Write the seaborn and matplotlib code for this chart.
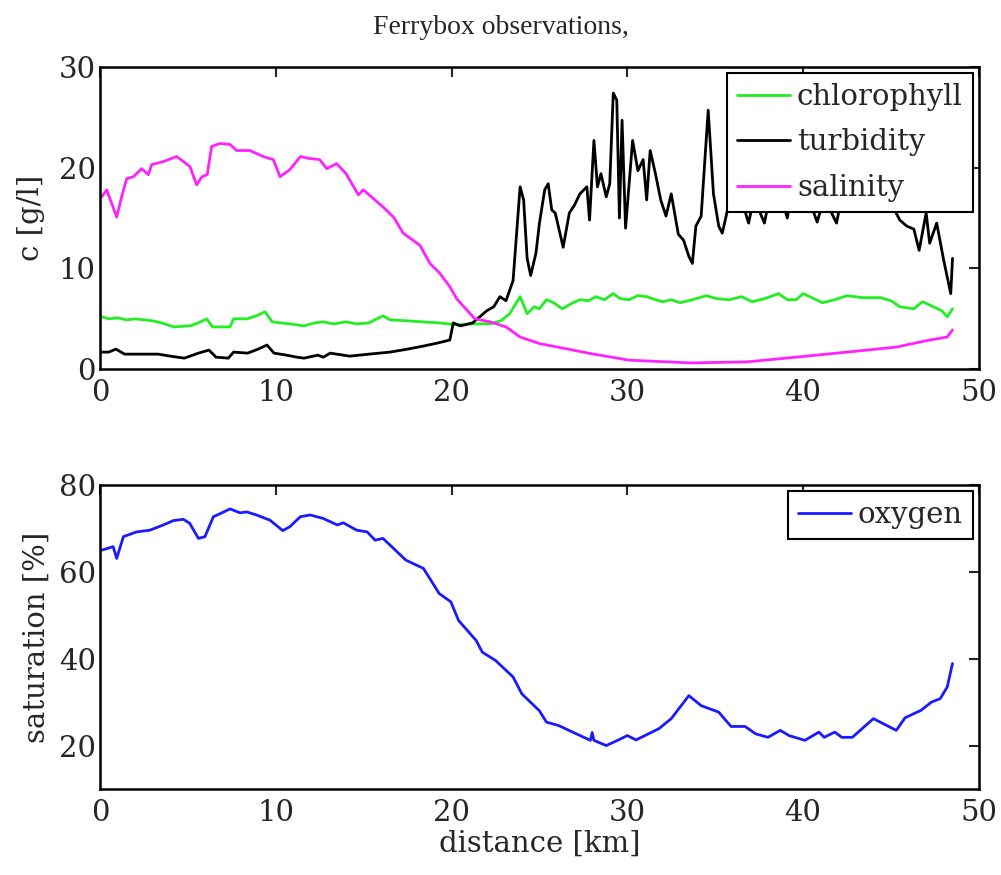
import numpy as np
import pandas as pd
import matplotlib
matplotlib.use("Agg")
import matplotlib.pyplot as plt
import seaborn as sns

# values (distance in km)
chl_km = [0.1, 0.5, 1.0, 1.5, 2.0, 2.5, 3.0, 3.5, 4.2, 5.1, 5.6, 6.07, 6.4, 7.4, 7.6, 8.35, 8.9, 9.39,
          9.8, 10.8, 11.6, 12.2, 12.7, 13.3, 14.0, 14.6, 15.3, 16.1, 16.5, 17.5, 18.4, 19.3, 20.3, 21.2,
          22.2, 22.8, 23.3, 23.9, 24.3, 24.7, 25.0, 25.4, 25.8, 26.3, 26.8, 27.3, 27.8, 28.2, 28.7, 29.2,
          29.6, 30.1, 30.6, 31.1, 31.6, 32.0, 32.5, 33.0, 33.7, 34.5, 35.1, 35.8, 36.5, 37.1, 37.8, 38.6,
          39.1, 39.6, 40.0, 40.5, 41.1, 41.8, 42.5, 43.4, 44.4, 45.0, 45.5, 46.3, 46.8, 47.4, 47.9, 48.2, 48.5]
chl_val = [5.2, 5.0, 5.1, 4.9, 5.0, 4.9, 4.8, 4.6, 4.2, 4.3, 4.6, 5.0, 4.2, 4.2, 5.0, 5.0, 5.3, 5.7,
           4.7, 4.5, 4.3, 4.6, 4.7, 4.5, 4.7, 4.5, 4.6, 5.3, 4.9, 4.8, 4.7, 4.6, 4.4, 4.5,
           4.5, 4.8, 5.5, 7.2, 5.5, 6.2, 6.0, 6.9, 6.6, 6.0, 6.5, 6.9, 6.8, 7.2, 6.9, 7.5,
           7.0, 6.9, 7.3, 7.2, 6.9, 6.7, 6.9, 6.6, 6.9, 7.3, 7.0, 6.9, 7.2, 6.7, 7.0, 7.5,
           6.9, 6.9, 7.5, 7.1, 6.6, 6.9, 7.3, 7.1, 7.1, 6.8, 6.2, 6.0, 6.7, 6.2, 5.8, 5.2, 6.0]

turb_km = [0.1, 0.5, 0.9, 1.4, 2.3, 3.3, 4.0, 4.8, 5.6, 6.2, 6.6, 7.3, 7.6, 8.4, 9.0, 9.5, 9.9, 10.6,
           11.2, 11.6, 12.4, 12.7, 13.1, 14.2, 15.3, 16.5, 17.5, 18.4, 19.2, 19.9, 20.1, 20.5, 21.2,
           21.6, 22.0, 22.4, 22.75, 23.1, 23.5, 23.9, 24.1, 24.3, 24.5, 24.8, 25.0, 25.3, 25.5, 25.7,
           25.9, 26.35, 26.7, 27.0, 27.3, 27.7, 27.85, 28.1, 28.3, 28.5, 28.8, 29.0, 29.2, 29.4, 29.55,
           29.7, 29.9, 30.3, 30.6, 30.9, 31.1, 31.3, 31.6, 31.9, 32.2, 32.5, 32.9, 33.2, 33.5, 33.7,
           33.9, 34.2, 34.6, 34.9, 35.2, 35.4, 35.7, 36.2, 36.9, 37.2, 37.8, 38.2, 38.7, 39.1, 39.5,
           40.2, 40.8, 41.2, 41.9, 42.3, 43.0, 43.8, 44.5, 45.0, 45.5, 45.9, 46.3, 46.6, 47.0, 47.2,
           47.6, 48.0, 48.4, 48.5]
turb_val = [1.7, 1.7, 2.0, 1.5, 1.5, 1.5, 1.3, 1.1, 1.6, 1.9, 1.2, 1.1, 1.7, 1.6, 2.0, 2.4, 1.6, 1.4,
            1.2, 1.1, 1.4, 1.2, 1.6, 1.3, 1.5, 1.7, 2.0, 2.3, 2.6, 2.9, 4.6, 4.3, 4.6,
            5.2, 5.8, 6.2, 7.2, 6.8, 8.8, 18.1, 16.8, 11.0, 9.3, 11.5, 14.5, 17.8, 18.4, 15.8,
            15.5, 12.1, 15.5, 16.3, 17.4, 18.1, 14.8, 22.7, 18.1, 19.4, 17.1, 18.4, 27.4, 26.7, 15.0,
            24.7, 14.0, 22.7, 19.7, 20.8, 16.8, 21.7, 19.4, 16.8, 15.2, 17.4, 13.4, 12.8, 11.2, 10.5,
            14.2, 15.2, 25.7, 17.4, 14.2, 13.5, 15.8, 18.5, 14.5, 17.0, 14.5, 18.0, 17.5, 15.0, 19.0,
            17.5, 14.6, 17.0, 14.5, 18.0, 16.5, 19.0, 17.5, 16.5, 14.8, 14.2, 13.9, 11.8, 15.5, 12.5,
            14.5, 10.8, 7.5, 11.0]

sal_km = [0.1, 0.38, 0.95, 1.23, 1.52, 1.9, 2.37, 2.75, 2.94, 3.6, 4.36, 4.6, 5.12, 5.5, 5.8, 6.1,
          6.35, 6.83, 7.4, 7.77, 8.53, 9.29, 9.86, 10.24, 10.8, 11.4, 11.95, 12.5, 12.9, 13.46, 14.0,
          14.7, 14.98, 16.1, 16.7, 17.25, 18.2, 18.77, 19.34, 19.9, 20.29, 20.86, 21.33, 22.2, 23.1,
          23.9, 25.0, 27.9, 30.1, 33.6, 36.8, 39.6, 42.5, 45.3, 47.2, 48.2, 48.5]
sal_val = [17.1, 17.8, 15.1, 17.1, 18.9, 19.1, 19.9, 19.3, 20.3, 20.6, 21.1, 20.8, 20.1, 18.3, 19.1, 19.3,
           22.1, 22.4, 22.3, 21.7, 21.7, 21.1, 20.8, 19.1, 19.8, 21.1, 20.9, 20.8, 19.9, 20.4, 19.4,
           17.3, 17.8, 16.1, 15.1, 13.5, 12.3, 10.5, 9.5, 8.2, 7.0, 5.9, 5.0, 4.7, 4.2,
           3.2, 2.55, 1.56, 0.9, 0.63, 0.73, 1.2, 1.7, 2.2, 2.9, 3.2, 3.9]

oxy_km = [0.1, 0.75, 0.95, 1.33, 2.08, 2.84, 3.6, 4.17, 4.74, 5.1, 5.6, 5.97, 6.45, 6.83, 7.4, 7.96,
          8.35, 8.9, 9.67, 10.4, 10.8, 11.4, 11.95, 12.7, 13.5, 13.84, 14.6, 15.2, 15.65, 16.1, 16.7,
          17.4, 18.4, 19.3, 19.96, 20.4, 21.4, 21.75, 22.5, 23.5, 24.0, 25.0, 25.4, 26.1, 27.1, 27.9,
          28.0, 28.1, 28.8, 29.6, 30.0, 30.5, 31.8, 32.5, 33.5, 34.2, 35.2, 35.9, 36.7, 37.3, 38.0,
          38.7, 39.2, 40.1, 40.9, 41.2, 41.8, 42.2, 42.8, 44.0, 45.3, 45.8, 46.7, 47.3, 47.8, 48.2, 48.5]
oxy_val = [65.0, 65.8, 63.1, 68.1, 69.2, 69.6, 70.8, 71.8, 72.1, 71.2, 67.7, 68.1, 72.7, 73.4, 74.5, 73.6,
           73.8, 73.1, 71.9, 69.5, 70.4, 72.7, 73.1, 72.3, 70.8, 71.3, 69.6, 69.2, 67.3, 67.7, 65.4,
           62.7, 60.8, 55.0, 53.1, 48.8, 44.2, 41.5, 39.6, 35.8, 31.9, 28.0, 25.4, 24.6, 22.7, 21.2,
           23.0, 21.2, 20.0, 21.5, 22.3, 21.3, 23.9, 26.2, 31.5, 29.2, 27.7, 24.4, 24.4, 22.7, 21.9,
           23.5, 22.3, 21.2, 23.1, 21.9, 23.1, 21.9, 21.9, 26.2, 23.5, 26.4, 28.1, 30.0, 30.8, 33.5, 38.9]

sns.set_style("white")
plt.rcParams['font.family'] = ['DejaVu Serif']

fig = plt.figure(figsize=(10.01, 8.75), dpi=100)
ax1 = fig.add_axes([0.0999, 0.578, 0.878, 0.3456])
ax2 = fig.add_axes([0.0999, 0.0983, 0.878, 0.3474])

lw = 2.0
sns.lineplot(x=chl_km, y=chl_val, ax=ax1, color='#22ee22', lw=lw, label='chlorophyll', estimator=None, sort=False)
sns.lineplot(x=turb_km, y=turb_val, ax=ax1, color='black', lw=lw, label='turbidity', estimator=None, sort=False)
sns.lineplot(x=sal_km, y=sal_val, ax=ax1, color='#ff22ff', lw=lw, label='salinity', estimator=None, sort=False)
sns.lineplot(x=oxy_km, y=oxy_val, ax=ax2, color='#1a1aff', lw=lw, label='oxygen', estimator=None, sort=False)

fs = 21
for ax in (ax1, ax2):
    ax.set_xlim(0, 50)
    ax.set_xticks([0, 10, 20, 30, 40, 50])
    ax.tick_params(direction='in', top=True, right=True, length=7, width=1.5,
                   labelsize=fs)
    ax.tick_params(axis='x', pad=7)
    ax.tick_params(axis='y', pad=3)
    for s in ax.spines.values():
        s.set_linewidth(1.8)
        s.set_color('black')

ax1.set_ylim(0, 30)
ax1.set_yticks([0, 10, 20, 30])
ax2.set_ylim(10, 80)
ax2.set_yticks([20, 40, 60, 80])

ax1.set_ylabel('c [g/l]', fontsize=fs, labelpad=10)
ax2.set_ylabel('saturation [%]', fontsize=fs, labelpad=6)
ax1.set_xlabel('')
ax2.set_xlabel('distance [km]', fontsize=fs, labelpad=2)

for ax in (ax1, ax2):
    leg = ax.legend(loc='upper right', fontsize=fs, frameon=True, fancybox=False,
                    handlelength=1.8, handletextpad=0.25, borderpad=0.35, labelspacing=0.6,
                    borderaxespad=0.2)
    leg.get_frame().set_edgecolor('black')
    leg.get_frame().set_linewidth(1.5)
    leg.get_frame().set_alpha(1)

fig.text(0.5, 0.968, 'Ferrybox observations,', ha='center', va='center',
         fontsize=20, family='Liberation Serif')

fig.savefig('out.png', dpi=100)
